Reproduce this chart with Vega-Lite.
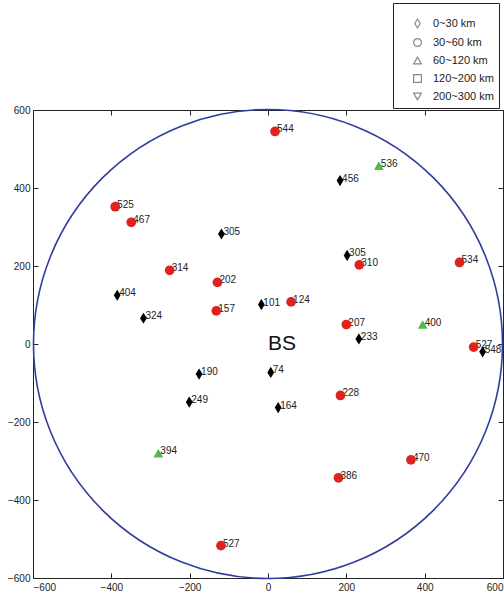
{
  "$schema": "https://vega.github.io/schema/vega-lite/v6.json",
  "width": 470,
  "height": 468,
  "autosize": {"type": "none"},
  "padding": {"left": 33, "top": 110, "right": 1, "bottom": 17},
  "background": "white",
  "config": {
    "view": {"stroke": "#222", "strokeWidth": 1},
    "axis": {"labelFont": "Liberation Sans", "labelFontSize": 10, "labelColor": "#222", "tickColor": "#222", "domain": false, "grid": false, "title": null, "tickSize": -5},
    "legend": {
      "titleFontSize": 7, "titlePadding": 3,
      "strokeColor": "#222", "padding": 5, "fillColor": "white",
      "labelFont": "Liberation Sans", "labelFontSize": 11, "labelColor": "#222",
      "symbolSize": 60, "symbolOffset": 14, "labelOffset": 10, "rowPadding": 5, "symbolStrokeWidth": 1.2
    }
  },
  "datasets": {
    "pts": [
      {"x": -119, "y": 282, "id": "305", "range": "0~30 km"},
      {"x": -385, "y": 125, "id": "404", "range": "0~30 km"},
      {"x": -318, "y": 66, "id": "324", "range": "0~30 km"},
      {"x": 184, "y": 419, "id": "456", "range": "0~30 km"},
      {"x": 202, "y": 227, "id": "305", "range": "0~30 km"},
      {"x": -17, "y": 101, "id": "101", "range": "0~30 km"},
      {"x": 232, "y": 13, "id": "233", "range": "0~30 km"},
      {"x": 548, "y": -20, "id": "548", "range": "0~30 km"},
      {"x": 7, "y": -73, "id": "74", "range": "0~30 km"},
      {"x": 26, "y": -163, "id": "164", "range": "0~30 km"},
      {"x": -176, "y": -77, "id": "190", "range": "0~30 km"},
      {"x": -201, "y": -149, "id": "249", "range": "0~30 km"},
      {"x": -390, "y": 352, "id": "525", "range": "30~60 km"},
      {"x": -349, "y": 312, "id": "467", "range": "30~60 km"},
      {"x": -251, "y": 189, "id": "314", "range": "30~60 km"},
      {"x": -129, "y": 158, "id": "202", "range": "30~60 km"},
      {"x": -132, "y": 85, "id": "157", "range": "30~60 km"},
      {"x": 18, "y": 545, "id": "544", "range": "30~60 km"},
      {"x": 233, "y": 203, "id": "310", "range": "30~60 km"},
      {"x": 489, "y": 209, "id": "534", "range": "30~60 km"},
      {"x": 59, "y": 108, "id": "124", "range": "30~60 km"},
      {"x": 200, "y": 50, "id": "207", "range": "30~60 km"},
      {"x": 525, "y": -8, "id": "527", "range": "30~60 km"},
      {"x": 185, "y": -132, "id": "228", "range": "30~60 km"},
      {"x": 365, "y": -297, "id": "470", "range": "30~60 km"},
      {"x": 180, "y": -343, "id": "386", "range": "30~60 km"},
      {"x": -120, "y": -517, "id": "527", "range": "30~60 km"},
      {"x": 283, "y": 457, "id": "536", "range": "60~120 km"},
      {"x": 395, "y": 50, "id": "400", "range": "60~120 km"},
      {"x": -280, "y": -280, "id": "394", "range": "60~120 km"}
    ],
    "ref": [{"x": 0, "y": 0, "label": "BS"}]
  },
  "resolve": {"axis": {"x": "independent", "y": "independent"}, "scale": {"shape": "independent"}, "legend": {"shape": "independent"}},
  "layer": [
    {
      "data": {"name": "ref"},
      "mark": {"type": "point", "shape": "circle", "filled": false, "size": 219961, "stroke": "#2e3d9c", "strokeWidth": 1.6, "opacity": 1},
      "encoding": {
        "x": {"field": "x", "type": "quantitative", "scale": {"domain": [-600, 600], "nice": false, "zero": false}, "axis": {"orient": "top", "labels": false, "values": [-600, -400, -200, 0, 200, 400, 600]}},
        "y": {"field": "y", "type": "quantitative", "scale": {"domain": [-600, 600], "nice": false, "zero": false}, "axis": {"orient": "right", "labels": false, "values": [-600, -400, -200, 0, 200, 400, 600]}}
      }
    },
    {
      "data": {"name": "pts"},
      "mark": {"type": "text", "align": "left", "baseline": "middle", "dx": 2, "dy": -2, "font": "Liberation Sans", "fontSize": 10, "color": "#222"},
      "encoding": {
        "x": {"field": "x", "type": "quantitative", "axis": {"orient": "bottom", "values": [-600, -400, -200, 0, 200, 400, 600], "labelPadding": 9}},
        "y": {"field": "y", "type": "quantitative", "axis": {"orient": "left", "values": [-600, -400, -200, 0, 200, 400, 600], "labelPadding": 8}},
        "text": {"field": "id"}
      }
    },
    {
      "data": {"name": "pts"},
      "mark": {"type": "point", "filled": true, "opacity": 1, "size": 95},
      "encoding": {
        "x": {"field": "x", "type": "quantitative", "axis": null},
        "y": {"field": "y", "type": "quantitative", "axis": null},
        "fill": {
          "field": "range", "type": "nominal", "legend": null,
          "scale": {"domain": ["0~30 km", "30~60 km", "60~120 km", "120~200 km", "200~300 km"], "range": ["#000000", "#e3201b", "#5cb84c", "#3c3c96", "#9a3cb4"]}
        },
        "shape": {
          "field": "range", "type": "nominal", "legend": null,
          "scale": {"domain": ["0~30 km", "30~60 km", "60~120 km", "120~200 km", "200~300 km"], "range": ["M0,-1.15L0.7,0L0,1.15L-0.7,0Z", "circle", "triangle-up", "square", "triangle-down"]}
        }
      }
    },
    {
      "data": {"name": "pts"},
      "mark": {"type": "point", "filled": false, "opacity": 1, "size": 30, "strokeWidth": 1.2},
      "encoding": {
        "x": {"field": "x", "type": "quantitative", "axis": null},
        "y": {"field": "y", "type": "quantitative", "axis": null},
        "stroke": {
          "field": "range", "type": "nominal", "legend": null,
          "scale": {"domain": ["0~30 km", "30~60 km", "60~120 km", "120~200 km", "200~300 km"], "range": ["#000000", "#d42a26", "#4cb84c", "#3c3c96", "#9a3cb4"]}
        },
        "shape": {
          "field": "range", "type": "nominal",
          "scale": {"domain": ["0~30 km", "30~60 km", "60~120 km", "120~200 km", "200~300 km"], "range": ["M0,-1.15L0.7,0L0,1.15L-0.7,0Z", "circle", "triangle-up", "square", "triangle-down"]},
          "legend": {
            "title": " ", "orient": "none", "legendX": 360, "legendY": -107,
            "encode": {"symbols": {
              "fill": {"value": "transparent"},
              "strokeWidth": {"value": 1.2},
              "stroke": {"condition": [
                {"test": "datum.value === '30~60 km'", "value": "#c8312c"},
                {"test": "datum.value === '60~120 km'", "value": "#4cb84c"},
                {"test": "datum.value === '120~200 km'", "value": "#3c3c96"},
                {"test": "datum.value === '200~300 km'", "value": "#9a3cb4"}
              ], "value": "#000000"}
            }}
          }
        }
      }
    },
    {
      "data": {"name": "ref"},
      "mark": {"type": "text", "align": "left", "baseline": "middle", "font": "Liberation Sans", "fontSize": 21, "color": "#111"},
      "encoding": {
        "x": {"field": "x", "type": "quantitative", "axis": null},
        "y": {"field": "y", "type": "quantitative", "axis": null},
        "text": {"field": "label"}
      }
    }
  ]
}
